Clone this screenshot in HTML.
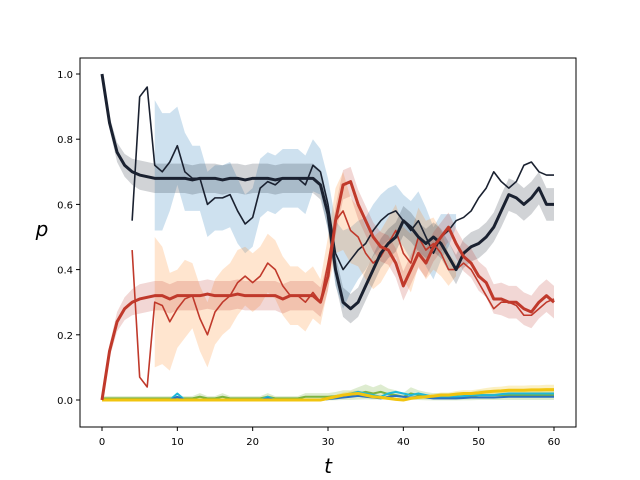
<!DOCTYPE html>
<html><head><meta charset="utf-8"><style>
body{margin:0;background:#fff}svg{display:block;font-family:"DejaVu Sans","Liberation Sans",sans-serif}
</style></head><body>
<svg id="c" width="640" height="480"></svg>
<script>
const T=[...Array(61).keys()];
const meanBlack=[1.0,.85,.76,.72,.70,.69,.685,.68,.68,.68,.68,.68,.675,.68,.68,.68,.675,.68,.68,.675,.68,.68,.68,.675,.68,.68,.68,.68,.68,.66,.57,.40,.30,.28,.30,.35,.40,.45,.48,.50,.55,.53,.50,.48,.50,.48,.44,.40,.45,.47,.48,.50,.53,.58,.63,.62,.60,.62,.65,.60,.60];
const meanRed=[0,.15,.24,.28,.30,.31,.315,.32,.32,.31,.32,.32,.32,.32,.325,.32,.32,.32,.325,.32,.32,.32,.32,.32,.31,.32,.32,.32,.32,.30,.38,.55,.66,.67,.60,.55,.50,.47,.46,.42,.35,.40,.45,.42,.47,.50,.53,.48,.44,.42,.38,.36,.31,.31,.30,.30,.28,.27,.30,.32,.30];
const bandMean=[0,.02,.03,.035,.04,.045,.045,.045,.045,.045,.045,.045,.045,.045,.045,.045,.045,.045,.045,.045,.045,.045,.045,.045,.045,.045,.045,.045,.045,.045,.045,.045,.045,.045,.045,.045,.045,.045,.045,.045,.045,.045,.045,.045,.045,.045,.045,.045,.045,.045,.045,.045,.045,.05,.05,.05,.05,.05,.05,.05,.05];
const T2=T.slice(4);
const thinBlack=[.55,.93,.96,.72,.70,.73,.78,.70,.68,.68,.60,.62,.62,.63,.58,.54,.56,.65,.67,.66,.68,.68,.68,.66,.72,.70,.60,.45,.40,.43,.46,.48,.52,.55,.57,.58,.55,.52,.55,.50,.45,.50,.52,.55,.56,.58,.62,.65,.70,.67,.65,.67,.72,.73,.70,.69,.69];
const thinRed=[.46,.07,.04,.30,.29,.24,.28,.31,.32,.25,.20,.27,.30,.32,.36,.38,.36,.38,.42,.40,.35,.32,.32,.30,.33,.30,.42,.55,.58,.52,.50,.45,.42,.44,.48,.52,.45,.42,.50,.46,.48,.45,.40,.40,.42,.40,.36,.32,.28,.30,.30,.29,.26,.26,.28,.30,.31];
const T3=T.slice(7,48);
const bandThin=[.2,.18,.15,.12,.12,.1,.1,.1,.1,.1,.1,.1,.09,.09,.09,.09,.09,.09,.09,.09,.09,.08,.07,.08,.1,.12,.1,.09,.08,.08,.08,.08,.08,.08,.09,.09,.09,.08,.07,.05,.02];
const yellow=[0,0,0,0,0,0,0,0,0,0,0,0,0,0,0,0,0,0,0,0,0,0,0,0,0,0,0,0,0,0,.005,.01,.015,.018,.02,.015,.01,.008,.005,.002,0,.005,.008,.01,.012,.015,.015,.018,.02,.02,.022,.025,.027,.028,.03,.03,.03,.031,.031,.032,.032];
const green=[.005,.005,.005,.005,.005,.005,.005,.005,.005,.005,.005,.005,.005,.01,.005,.005,.01,.005,.005,.005,.005,.005,.01,.005,.005,.005,.005,.01,.01,.01,.01,.012,.015,.015,.02,.025,.02,.025,.018,.015,.01,.02,.015,.012,.01,.01,.01,.01,.012,.012,.015,.015,.015,.015,.015,.015,.015,.015,.015,.015,.015];
const cyan=[0,0,0,0,0,0,0,0,0,0,.02,0,0,0,0,0,0,0,0,0,0,0,.01,0,0,0,0,0,0,0,.005,.01,.015,.02,.025,.02,.015,.01,.02,.025,.02,.015,.02,.015,.01,.01,.01,.01,.012,.015,.015,.015,.015,.018,.02,.02,.02,.02,.02,.02,.02];
const xTicks=[0,10,20,30,40,50,60];
const yTicks=[0,0.2,0.4,0.6,0.8,1.0];
const yLabels=["0.0","0.2","0.4","0.6","0.8","1.0"];

const L=80,R=576,Tp=58,B=427;
const x=t=>102+t*(452/60);
const y=p=>400-p*326;
const s=document.getElementById('c');const NS='http://www.w3.org/2000/svg';
function mk(tag,a,name){const e=document.createElementNS(NS,tag);for(const k in a)e.setAttribute(k,a[k]);


s.appendChild(e);return e;}
function line(ts,vs,col,w,name){mk('polyline',{points:ts.map((t,i)=>x(t)+','+y(vs[i])).join(' '),fill:'none',stroke:col,'stroke-width':w,'stroke-linejoin':'round'},name);}
function band(ts,vs,ws,col,op,name){const up=ts.map((t,i)=>x(t)+','+y(vs[i]+ws[i]));const dn=ts.map((t,i)=>x(t)+','+y(vs[i]-ws[i])).reverse();
mk('polygon',{points:up.concat(dn).join(' '),fill:col,'fill-opacity':op},name);}
const thinBlack3=thinBlack.slice(3),thinRed3=thinRed.slice(3);
band(T3,thinBlack3,bandThin,'#1f77b4',.22,'thin-black-band');
band(T3,thinRed3,bandThin,'#ff7f0e',.2,'thin-red-band');
band(T,meanBlack,bandMean,'#1a2130',.2,'mean-black-band');
band(T,meanRed,bandMean,'#c0392b',.2,'mean-red-band');
band(T,green,green.map(v=>v*.8+.003),'#7cb342',.25,'green-band');
band(T,yellow,yellow.map(v=>v*.4+.002),'#f1c40f',.25,'yellow-band');
line(T,green,'#7cb342',2,'green-line');
line(T,cyan,'#1fb8d8',2,'cyan-line');
line(T,cyan.map(v=>v*.5),'#2a72c0',2,'blue-line');
line(T,yellow,'#f1c40f',3,'yellow-line');
line(T2,thinBlack,'#1a2130',1.6,'thin-black-line');
line(T2,thinRed,'#c0392b',1.6,'thin-red-line');
line(T,meanBlack,'#1a2130',3,'mean-black-line');
line(T,meanRed,'#c0392b',3,'mean-red-line');
mk('rect',{x:L,y:Tp,width:R-L,height:B-Tp,fill:'none',stroke:'#000','stroke-width':1},'plot-frame');
xTicks.forEach(t=>{mk('line',{x1:x(t),x2:x(t),y1:B,y2:B+4,stroke:'#000'},'x-tick');
const e=mk('text',{x:x(t),y:B+18,'text-anchor':'middle','font-size':10},'x-tick-label');e.textContent=t;});
yTicks.forEach((p,i)=>{mk('line',{x1:L-4,x2:L,y1:y(p),y2:y(p),stroke:'#000'},'y-tick');
const e=mk('text',{x:L-7,y:y(p)+4,'text-anchor':'end','font-size':10},'y-tick-label');e.textContent=yLabels[i];});
let e=mk('text',{x:328,y:473,'text-anchor':'middle','font-size':20,'font-style':'italic'},'x-axis-title');e.textContent='t';
e=mk('text',{x:42,y:236,'text-anchor':'middle','font-size':20,'font-style':'italic'},'y-axis-title');e.textContent='p';
</script>
</body></html>
